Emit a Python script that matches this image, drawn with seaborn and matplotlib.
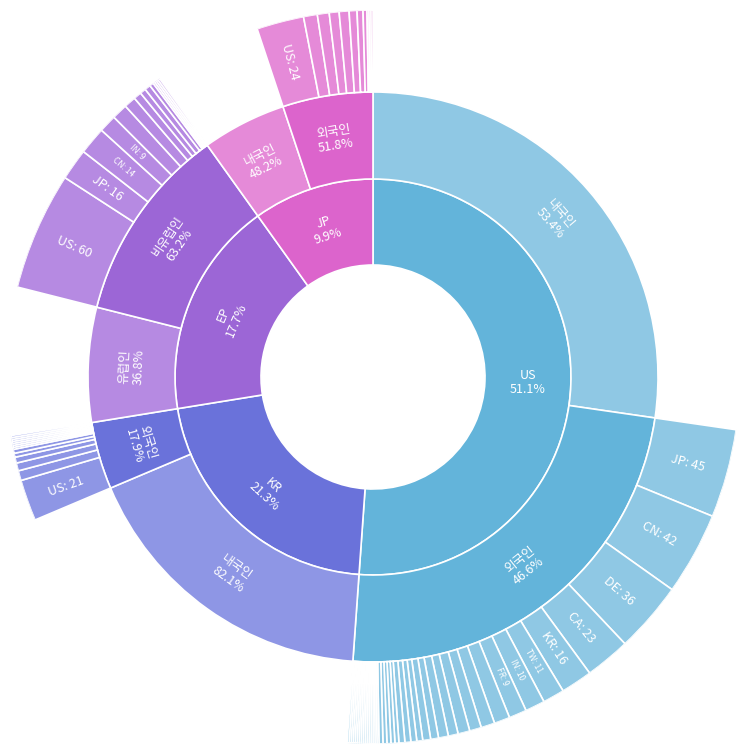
import numpy as np
import matplotlib
matplotlib.use("Agg")
import matplotlib.pyplot as plt
import seaborn as sns

sns.set_style("white")
plt.rcParams["font.family"] = ["Noto Sans CJK KR", "DejaVu Sans"]

# --- data ---
offices = ["US", "KR", "EP", "JP"]
office_colors = ["#63b4da", "#6a72da", "#9c66d6", "#dc64cc"]
light_colors = ["#8fc8e4", "#8e96e5", "#b68ae2", "#e58ad8"]

# (내부 그룹, 값) - 두번째가 외국 출원인
us_groups = [("내국인", 315), ("외국인", 275)]
kr_groups = [("내국인", 202), ("외국인", 44)]
ep_groups = [("유럽인", 75), ("비유럽인", 129)]
jp_groups = [("내국인", 55), ("외국인", 59)]

us_foreign = [("JP", 45), ("CN", 42), ("DE", 36), ("CA", 23), ("KR", 16), ("TW", 11),
              ("IN", 10), ("FR", 9), ("GB", 8), ("CH", 7), ("NL", 6), ("SE", 6),
              ("IT", 5), ("AU", 5), ("IL", 4), ("BE", 4), ("AT", 3), ("DK", 3),
              ("FI", 3), ("SG", 3), ("ES", 2), ("NO", 2), ("IE", 2), ("BR", 2),
              ("RU", 2)] + [(f"X{i}", 1) for i in range(16)]
kr_foreign = [("US", 21), ("JP", 5), ("CN", 4), ("DE", 3), ("FR", 2), ("GB", 2),
              ("CH", 1), ("NL", 1), ("TW", 1), ("SE", 1), ("IT", 1), ("CA", 1), ("IN", 1)]
ep_foreign = [("US", 60), ("JP", 16), ("CN", 14), ("IN", 9), ("CA", 8), ("KR", 6),
              ("AU", 4), ("TW", 3), ("IL", 3), ("SG", 2), ("BR", 1), ("RU", 1), ("ZA", 1), ("MX", 1)]
jp_foreign = [("US", 24), ("KR", 7), ("CN", 6), ("DE", 5), ("FR", 5), ("TW", 4),
              ("GB", 3), ("CH", 2), ("CA", 1), ("IN", 1), ("NL", 1)]

groups = [us_groups, kr_groups, ep_groups, jp_groups]
foreign = [us_foreign, kr_foreign, ep_foreign, jp_foreign]

R0, R1, R2, R3 = 112, 198, 285, 367
total = sum(v for g in groups for _, v in g)
scale = 2 * np.pi / total

fig = plt.figure(figsize=(7.48, 7.56), dpi=100)
ax = fig.add_axes([6 / 748, 12 / 756, 734 / 748, 734 / 756], projection="polar")
ax.set_theta_zero_location("N")
ax.set_theta_direction(-1)
ax.set_ylim(0, R3)
ax.axis("off")

edge = dict(edgecolor="white", linewidth=1.2, align="edge")


def tang_rot(theta):
    deg = np.degrees(theta) % 360
    rot = -deg
    if 90 < deg < 270:
        rot += 180
    return rot


def rad_rot(theta):
    deg = np.degrees(theta) % 360
    rot = 90 - deg
    if deg > 180:
        rot += 180
    return rot


start = 0.0
for i, name in enumerate(offices):
    otot = sum(v for _, v in groups[i])
    w = otot * scale
    ax.bar(start, R1 - R0, width=w, bottom=R0, color=office_colors[i], **edge)
    mid = start + w / 2
    ax.text(mid, (R0 + R1) / 2, f"{name}\n{otot / total * 100:.1f}%", ha="center",
            va="center", color="white", fontsize=9, rotation=tang_rot(mid) if i else 0,
            linespacing=1.1)
    gs = start
    for j, (gname, gv) in enumerate(groups[i]):
        gw = gv * scale
        col = office_colors[i] if j == 1 else light_colors[i]
        ax.bar(gs, R2 - R1, width=gw, bottom=R1, color=col, **edge)
        gm = gs + gw / 2
        ax.text(gm, (R1 + R2) / 2, f"{gname}\n{gv / otot * 100:.1f}%", ha="center",
                va="center", color="white", fontsize=9, rotation=tang_rot(gm),
                linespacing=1.1)
        if j == 1:
            cs = gs
            for cname, cv in foreign[i]:
                cw = cv * scale
                ax.bar(cs, R3 - R2, width=cw, bottom=R2, color=light_colors[i], **edge)
                if np.degrees(cw) > 2.6 and not cname.startswith("X"):
                    cm = cs + cw / 2
                    fs = 9 if np.degrees(cw) > 4.5 else 6
                    ax.text(cm, (R2 + R3) / 2, f"{cname}: {cv}", ha="center",
                            va="center", color="white", fontsize=fs,
                            rotation=rad_rot(cm))
                cs += cw
        gs += gw
    start += w

fig.savefig("out.png", dpi=100)
